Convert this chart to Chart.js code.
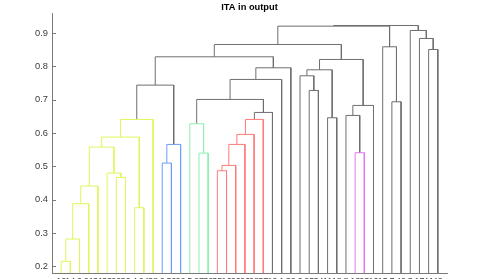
<!DOCTYPE html>
<html>
<head>
<meta charset="utf-8">
<script src="https://cdn.jsdelivr.net/npm/chart.js@4"></script>
<style>
  body { margin: 0; overflow: hidden; background: #fff; }
</style>
</head>
<body>
<canvas id="dendro" width="493" height="293"></canvas>
<script>

// leaf labels in the order they appear along the x axis (unreadable in the picture, guessed)
const leafLabels = [12, 14, 9, 21, 31, 33, 29, 36, 4, 24, 38, 2, 39, 22, 5, 27, 30, 35, 16, 20, 26, 28, 37, 19, 1, 32, 6, 25, 34, 11, 18, 8, 13, 23, 10, 15, 7, 40, 3, 17, 41, 42];

// linkage: ids 1..42 are leaf positions, 43.. are the merges below in order
const mergeLeft  = [1, 43, 9, 44, 46, 7, 6, 18, 50, 12, 16, 33, 47, 52, 51, 55, 57, 15, 58, 59, 30, 32, 62, 64, 37, 60, 28, 61, 68, 27, 72, 71, 73, 70, 41, 36, 76, 40, 39, 79, 82];
const mergeRight = [2, 3, 10, 4, 5, 8, 48, 19, 20, 13, 17, 34, 49, 14, 21, 45, 22, 53, 11, 23, 31, 54, 24, 35, 38, 65, 29, 56, 25, 69, 63, 26, 66, 74, 42, 67, 75, 77, 80, 78, 81];
const mergeHeight = [0.215, 0.282, 0.376, 0.388, 0.441, 0.467, 0.480, 0.487, 0.503, 0.510, 0.540, 0.541,
                     0.558, 0.566, 0.566, 0.588, 0.596, 0.628, 0.641, 0.641, 0.646, 0.653, 0.662, 0.683,
                     0.694, 0.701, 0.728, 0.744, 0.761, 0.772, 0.790, 0.796, 0.821, 0.829, 0.851, 0.859,
                     0.866, 0.884, 0.908, 0.921, 0.923];
const mergeGroup = ['y','y','y','y','y','y','y','r','r','b','g','p',
                    'y','b','r','y','r','g','y','r','k','k','k','k',
                    'k','k','k','k','k','k','k','k','k','k','k','k',
                    'k','k','k','k','k'];

const yTicks = [0.2, 0.3, 0.4, 0.5, 0.6, 0.7, 0.8, 0.9];

const groupColors = {
    y: '#e2f55c',
    b: '#6c9ef5',
    g: '#8cf0ae',
    r: '#ff7a7a',
    p: '#df78f5',
    k: '#6e6e6e'
};

const nLeaves = leafLabels.length;

// position / height of every node
let nodeX = [], nodeY = [];
for (let i = 1; i <= nLeaves; i++) {
    nodeX[i] = i;
    nodeY[i] = 0;
}

let datasets = [];
for (let k = 0; k < mergeLeft.length; k++) {
    let a = mergeLeft[k], b = mergeRight[k], h = mergeHeight[k];
    let id = nLeaves + 1 + k;
    nodeX[id] = (nodeX[a] + nodeX[b]) / 2;
    nodeY[id] = h;
    datasets.push({
        data: [
            {x: nodeX[a], y: nodeY[a]},
            {x: nodeX[a], y: h},
            {x: nodeX[b], y: h},
            {x: nodeX[b], y: nodeY[b]}
        ],
        showLine: true,
        borderColor: groupColors[mergeGroup[k]],
        borderWidth: 1,
        pointRadius: 0,
        tension: 0
    });
}

const axisColor = '#7a7a7a';

// matlab style ticks that point into the plot
const innerTicks = {
    id: 'innerTicks',
    afterDraw(chart) {
        let ctx = chart.ctx;
        let y = chart.scales.y;
        let left = chart.chartArea.left;
        ctx.save();
        ctx.strokeStyle = axisColor;
        ctx.lineWidth = 1;
        ctx.beginPath();
        yTicks.forEach(v => {
            let py = Math.round(y.getPixelForValue(v)) + 0.5;
            ctx.moveTo(left, py);
            ctx.lineTo(left + 4, py);
        });
        ctx.stroke();
        ctx.restore();
    }
};

const config = {
    type: 'scatter',
    data: { datasets: datasets },
    options: {
        responsive: false,
        animation: false,
        devicePixelRatio: 1,
        layout: { padding: { left: 0, right: 46, top: 0, bottom: 0 } },
        plugins: {
            legend: { display: false },
            tooltip: { enabled: false },
            title: {
                display: true,
                text: 'ITA in output',
                fullSize: false,
                color: '#000',
                font: { family: 'Liberation Sans', size: 9.3, weight: 'bold' },
                padding: { top: 2, bottom: 0 }
            }
        },
        scales: {
            x: {
                type: 'linear',
                min: 0,
                max: nLeaves + 1,
                afterBuildTicks: s => { s.ticks = leafLabels.map((l, i) => ({value: i + 1})); },
                afterFit: s => { s.height = 20; },
                ticks: {
                    autoSkip: false,
                    maxRotation: 0,
                    padding: 3,
                    color: '#444',
                    font: { family: 'Liberation Sans', size: 9 },
                    callback: v => leafLabels[v - 1]
                },
                grid: { drawOnChartArea: false, drawTicks: false, color: axisColor },
                border: { color: axisColor, width: 1 }
            },
            y: {
                min: 0.18,
                max: 0.96,
                afterBuildTicks: s => { s.ticks = yTicks.map(v => ({value: v})); },
                afterFit: s => { s.width = 52; },
                ticks: {
                    padding: 4,
                    color: '#3a3a3a',
                    font: { family: 'Liberation Sans', size: 9.3 },
                    callback: v => v.toFixed(1)
                },
                grid: { drawOnChartArea: false, drawTicks: false, color: axisColor },
                border: { color: axisColor, width: 1 }
            }
        }
    },
    plugins: [innerTicks]
};

let ctx = document.getElementById('dendro').getContext('2d');
new Chart(ctx, config);
</script>
</body>
</html>
